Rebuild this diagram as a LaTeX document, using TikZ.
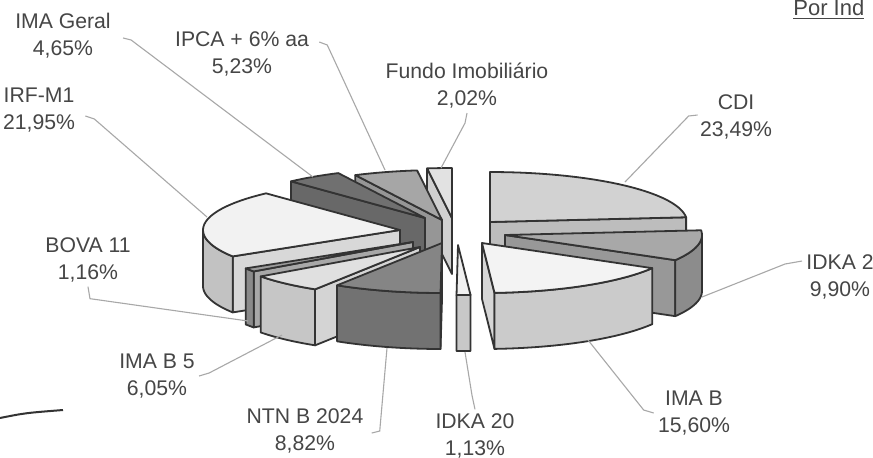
\documentclass[tikz,border=0pt]{standalone}
\usepackage{fontspec}
\setmainfont{Liberation Sans}
\usetikzlibrary{positioning}

\definecolor{inkgray}{HTML}{464646}
\definecolor{edgegray}{HTML}{333333}
\definecolor{leadgray}{HTML}{A8A8A8}
\definecolor{cditop}{HTML}{D2D2D2}   \definecolor{cdiside}{HTML}{BDBDBD}
\definecolor{idkatop}{HTML}{A8A8A8}  \definecolor{idkaside}{HTML}{989898} \definecolor{idkarim}{HTML}{8C8C8C}
\definecolor{imabtop}{HTML}{F3F3F3}  \definecolor{imabside}{HTML}{D6D6D6} \definecolor{imabrim}{HTML}{CBCBCB}
\definecolor{idkxtop}{HTML}{F0F0F0}  \definecolor{idkxrim}{HTML}{C8C8C8}
\definecolor{ntntop}{HTML}{858585}   \definecolor{ntnside}{HTML}{787878}  \definecolor{ntnrim}{HTML}{727272}
\definecolor{imabvtop}{HTML}{E0E0E0} \definecolor{imabvside}{HTML}{D4D4D4} \definecolor{imabvrim}{HTML}{C6C6C6}
\definecolor{bovatop}{HTML}{9C9C9C}  \definecolor{bovaside}{HTML}{A8A8A8} \definecolor{bovarim}{HTML}{8A8A8A}
\definecolor{irftop}{HTML}{F2F2F2}   \definecolor{irfside}{HTML}{D8D8D8}  \definecolor{irfrim}{HTML}{C2C2C2}
\definecolor{geraltop}{HTML}{707070} \definecolor{geralside}{HTML}{686868}
\definecolor{ipcatop}{HTML}{A6A6A6}  \definecolor{ipcaside}{HTML}{969696}
\definecolor{fundotop}{HTML}{E2E2E2} \definecolor{fundoside}{HTML}{D0D0D0}

% slice height, radii 197 x 50
\newcommand{\pieh}{56}
% top face: apex x, apex y, from, to, colour
\newcommand{\pietop}[5]{\filldraw[pieline, fill=#5] (#1,#2) -- plot[domain=#3:#4, samples=30, variable=\t] ({#1+197*cos(\t)},{#2+50*sin(\t)}) -- cycle;}
% outer rim
\newcommand{\pierim}[5]{\filldraw[pieline, fill=#5] plot[domain=#3:#4, samples=20, variable=\t] ({#1+197*cos(\t)},{#2+50*sin(\t)}) -- plot[domain=#4:#3, samples=20, variable=\t] ({#1+197*cos(\t)},{#2+\pieh+50*sin(\t)}) -- cycle;}
% radial cut face
\newcommand{\piecut}[4]{\filldraw[pieline, fill=#4] (#1,#2) -- ({#1+197*cos(#3)},{#2+50*sin(#3)}) -- ({#1+197*cos(#3)},{#2+\pieh+50*sin(#3)}) -- (#1,{#2+\pieh}) -- cycle;}

\begin{document}
\begin{tikzpicture}[x=0.5pt,y=-0.5pt,
    pieline/.style={draw=edgegray, line width=0.9pt, line join=round},
    leader/.style={draw=leadgray, line width=0.55pt},
    lbl/.style={align=center, text=inkgray, inner sep=0pt, font=\fontsize{10.6}{13.5}\selectfont}]

\fill[white] (0,0) rectangle (873,457);
\useasboundingbox (0,0) rectangle (873,457);

% back slices
\piecut{452}{218}{262.73}{fundoside}
\pietop{452}{218}{262.73}{270}{fundotop}
\piecut{442}{220}{243.9}{ipcaside}
\pietop{442}{220}{243.9}{262.73}{ipcatop}
\piecut{425}{218}{227.16}{geralside}
\pietop{425}{218}{227.16}{243.9}{geraltop}
\piecut{490}{222}{-5.44}{cdiside}
\pietop{490}{222}{-90}{-5.44}{cditop}

% IRF-M1
\piecut{400}{230}{148.14}{irfside}
\pierim{400}{230}{148.14}{180}{irfrim}
\pietop{400}{230}{148.14}{227.16}{irftop}

% IDKA 2
\piecut{505}{235}{30.2}{idkaside}
\pierim{505}{235}{0}{30.2}{idkarim}
\pietop{505}{235}{-5.44}{30.2}{idkatop}

% BOVA 11 and IMA B 5
\piecut{413}{242}{143.96}{bovaside}
\pierim{413}{242}{143.96}{148.14}{bovarim}
\pietop{413}{242}{143.96}{148.14}{bovatop}
\piecut{420}{247}{122.18}{imabvside}
\pierim{420}{247}{122.18}{143.96}{imabvrim}
\pietop{420}{247}{122.18}{143.96}{imabvtop}

% IMA B
\piecut{482}{243}{86.36}{imabside}
\pierim{482}{243}{30.2}{86.36}{imabrim}
\pietop{482}{243}{30.2}{86.36}{imabtop}

% NTN B 2024
\piecut{442}{243}{90.43}{ntnside}
\pierim{442}{243}{90.43}{122.18}{ntnrim}
\pietop{442}{243}{90.43}{122.18}{ntntop}

% IDKA 20
\pierim{458}{245}{86.36}{90.43}{idkxrim}
\pietop{458}{245}{86.36}{90.43}{idkxtop}

% leader ends on the slices
\coordinate (egeral) at (313,177);
\coordinate (eipca) at (385,170);
\coordinate (efundo) at (441,168);
\coordinate (eirf) at (207,217);
\coordinate (ecdi) at (625,182);
\coordinate (eidka) at (702,297);
\coordinate (eimab) at (588,340);
\coordinate (eidkx) at (465,352);
\coordinate (entn) at (387,348);
\coordinate (eimabv) at (282,335);
\coordinate (ebova) at (248,321);

% labels
\node[lbl] (lgeral) at (63,36) {IMA Geral\\4,65\%};
\node[lbl] (lipca) at (242,54) {IPCA + 6\% aa\\5,23\%};
\node[lbl] (lfundo) at (467,86) {Fundo Imobiliário\\2,02\%};
\node[lbl] (lcdi) at (736,117) {CDI\\23,49\%};
\node[lbl] (lirf) at (39,110) {IRF-M1\\21,95\%};
\node[lbl] (lbova) at (88,260) {BOVA 11\\1,16\%};
\node[lbl] (lidka) at (840,277) {IDKA 2\\9,90\%};
\node[lbl] (limabv) at (157,376) {IMA B 5\\6,05\%};
\node[lbl] (lntn) at (305,431) {NTN B 2024\\8,82\%};
\node[lbl] (lidkx) at (475,436) {IDKA 20\\1,13\%};
\node[lbl] (limab) at (694,413) {IMA B\\15,60\%};
\node[anchor=base west, text=inkgray, inner sep=0pt, font=\fontsize{11}{13}\selectfont] (lpor) at (793,15) {\underline{Por Ind}};

% leaders
\draw[leader] ([xshift=6,yshift=-1]lgeral.east) -- ++(8,2) -- (egeral);
\draw[leader] ([xshift=5,yshift=6]lipca.east) -- ++(8,3) -- (eipca);
\draw[leader] ([yshift=-2]lfundo.south) -- ++(-2,10) -- (efundo);
\draw[leader] ([xshift=5,yshift=-3]lirf.east) -- ++(9,3) -- (eirf);
\draw[leader] ([xshift=-1,yshift=1]lcdi.west) -- ++(-9,1) -- (ecdi);
\draw[leader] ([xshift=-2,yshift=8]lidka.west) -- ++(-17,3) -- (eidka);
\draw[leader] ([xshift=-2]limab.west) -- ++(-10,-3) -- (eimab);
\draw[leader] ([yshift=2]lidkx.north) -- ++(-3,-14) -- (eidkx);
\draw[leader] ([xshift=4,yshift=-1]lntn.east) -- ++(8,-2) -- (entn);
\draw[leader] ([xshift=2]limabv.east) -- ++(10,-3) -- (eimabv);
\draw[leader] ([yshift=-2]lbova.south) -- ++(2,12) -- (ebova);

% stray mark of the page
\draw[edgegray, line width=1pt] (0,418) .. controls (25,413) .. (63,410);

\end{tikzpicture}
\end{document}
